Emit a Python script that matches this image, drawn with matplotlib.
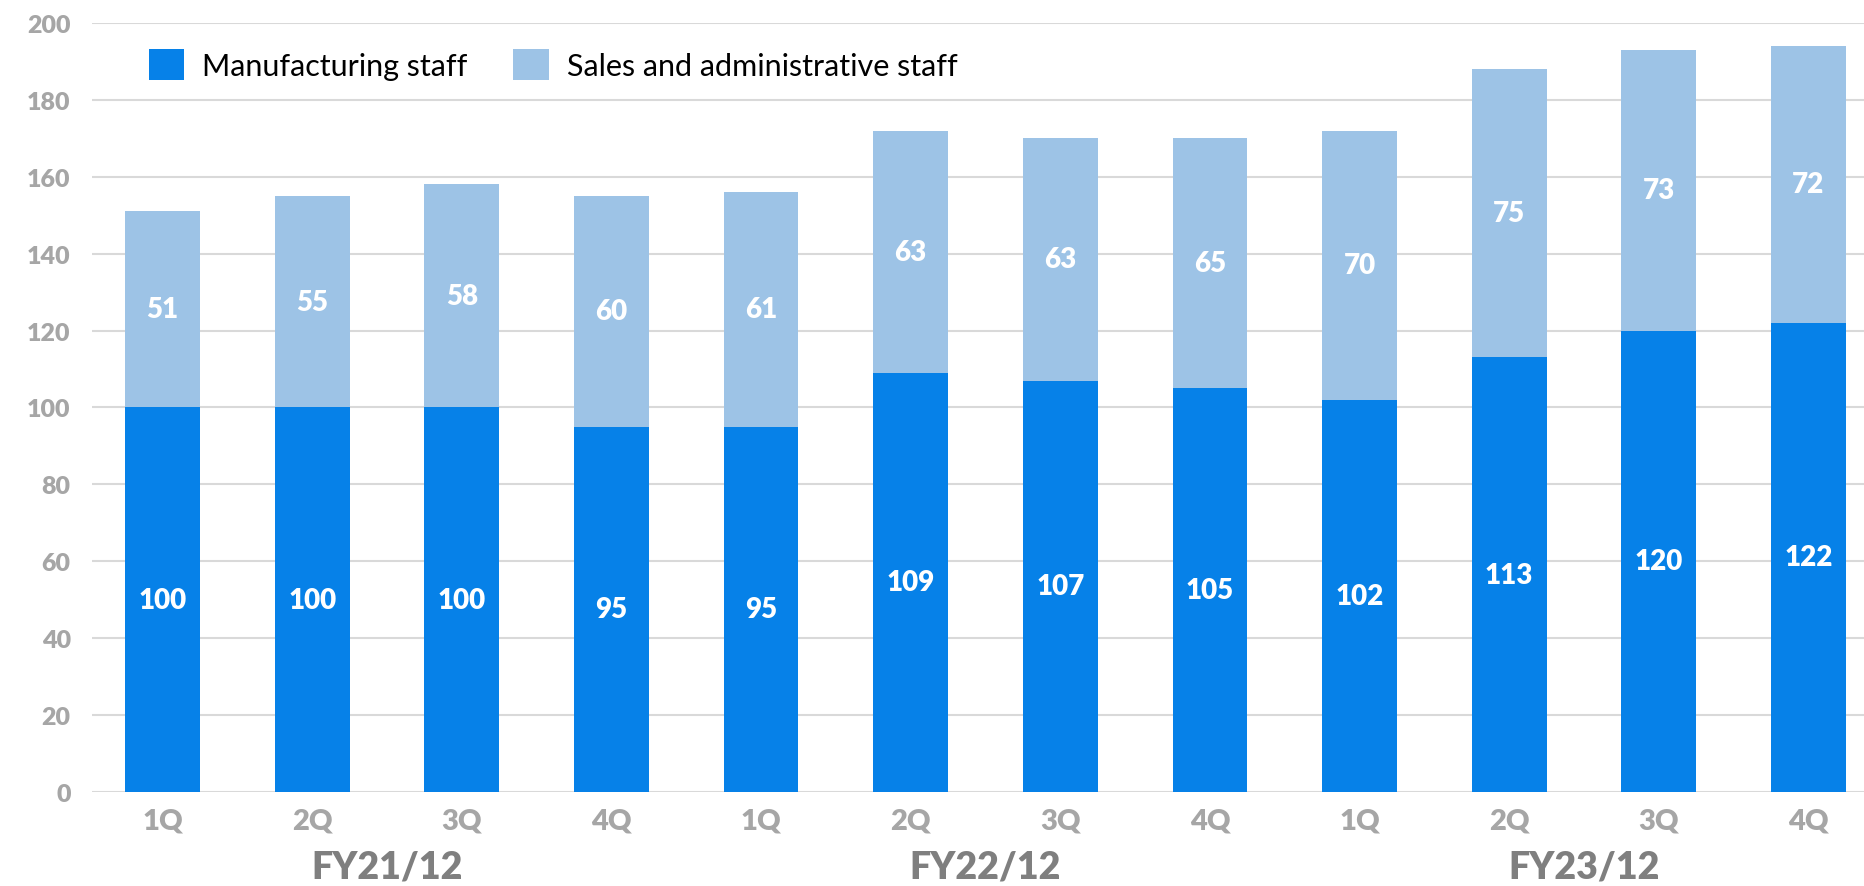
import numpy as np
import matplotlib
matplotlib.use("Agg")
from matplotlib import pyplot as plt
from matplotlib import transforms

plt.rcParams["font.family"] = ["Lato", "DejaVu Sans"]

quarters = ["1Q", "2Q", "3Q", "4Q"] * 3
years = ["FY21/12", "FY22/12", "FY23/12"]
manufacturing = [100, 100, 100, 95, 95, 109, 107, 105, 102, 113, 120, 122]
sales_admin = [51, 55, 58, 60, 61, 63, 63, 65, 70, 75, 73, 72]

c_manu = "#0681E8"
c_sales = "#9DC3E6"
grid_c = "#D9D9D9"
tick_c = "#A6A6A6"
year_c = "#7F7F7F"

fig = plt.figure(figsize=(18.65, 8.87), dpi=100)
ax = fig.add_axes([0.0491, 0.106, 0.9509, 0.867])

x = np.arange(len(quarters))
ax.bar(x, manufacturing, width=0.5, color=c_manu, label="Manufacturing staff", zorder=3)
ax.bar(x, sales_admin, width=0.5, bottom=manufacturing, color=c_sales,
       label="Sales and administrative staff", zorder=3)

# segment labels
for xi, m, s in zip(x, manufacturing, sales_admin):
    ax.text(xi, m / 2, str(m), ha="center", va="center", color="white",
            fontsize=20, fontweight="heavy", zorder=4)
    ax.text(xi, m + s / 2, str(s), ha="center", va="center", color="white",
            fontsize=20, fontweight="heavy", zorder=4)

ax.set_ylim(0, 200)
ax.set_xlim(-0.474, 11.378)
ax.set_yticks(range(0, 201, 20))
ax.yaxis.grid(True, color=grid_c, lw=1.5, zorder=0)
ax.set_axisbelow(True)
for sp in ax.spines.values():
    sp.set_visible(False)
ax.tick_params(axis="both", length=0)
ax.tick_params(axis="y", pad=15, labelsize=18, labelcolor=tick_c)
ax.tick_params(axis="x", pad=11, labelsize=21, labelcolor=tick_c)
ax.set_xticks(x)
ax.set_xticklabels(quarters)
for lab in ax.get_xticklabels() + ax.get_yticklabels():
    lab.set_fontweight("heavy")

trans = transforms.blended_transform_factory(ax.transData, ax.transAxes)
for i, yr in enumerate(years):
    ax.text(i * 4 + 1.5, -0.0975, yr, transform=trans, ha="center", va="center",
            fontsize=27, fontweight="heavy", color=year_c)

ax.legend(loc="center left", bbox_to_anchor=(0.0324, 0.946), ncol=2, frameon=False,
          fontsize=22, handlelength=1.15, handleheight=1.15, handletextpad=0.59,
          columnspacing=1.5, borderpad=0, borderaxespad=0)

fig.savefig("out.png", dpi=100)
